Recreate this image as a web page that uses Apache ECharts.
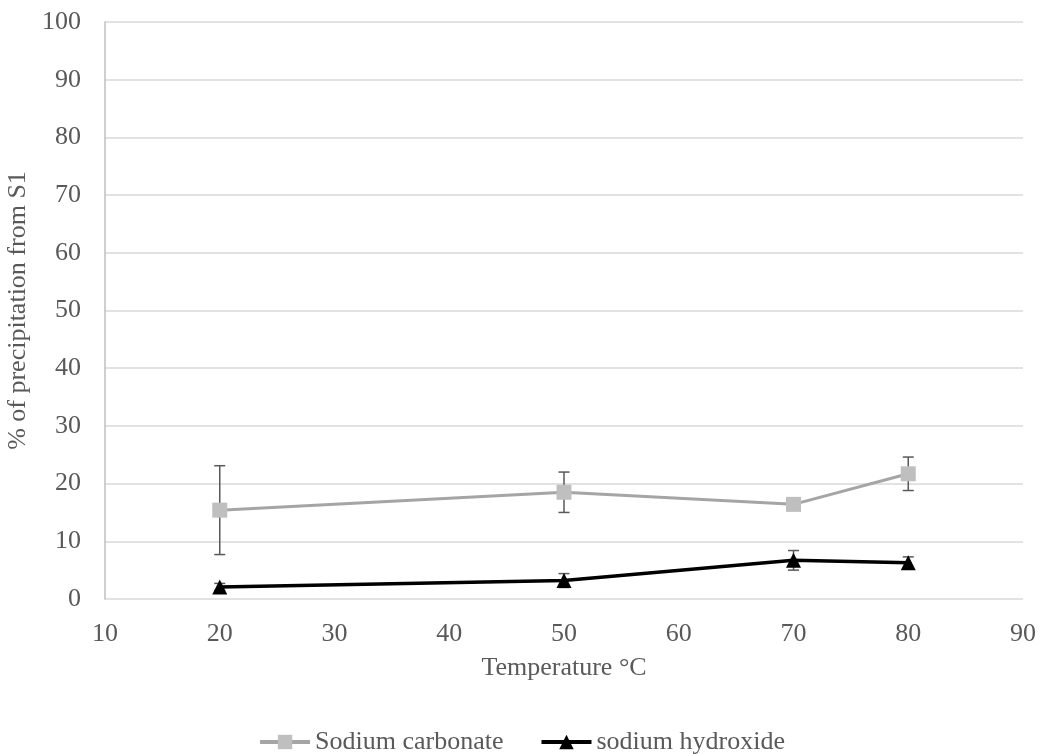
<!DOCTYPE html>
<html>
<head>
<meta charset="utf-8">
<script src="https://cdn.jsdelivr.net/npm/echarts@6/dist/echarts.min.js"></script>
<style>html,body{margin:0;padding:0;background:#fff;}#chart{width:1043px;height:754px;}</style>
</head>
<body>
<div id="chart"></div>
<script>
const temps = [20, 50, 70, 80];
const carbonate = [15.4, 18.5, 16.4, 21.7];
const carbonateErr = [7.7, 3.5, 0.4, 2.9];
const hydroxide = [2.1, 3.2, 6.7, 6.3];
const hydroxideErr = [0.6, 1.2, 1.7, 1.0];
const seriesNames = ['Sodium carbonate', 'sodium hydroxide'];
const xTitle = 'Temperature °C';
const yTitle = '% of precipitation from S1';

const font = 'Liberation Serif, Times New Roman, serif';
const textColor = '#595959';
const fs = 26;

function pairs(ys) { return temps.map((t, i) => [t, ys[i]]); }
function errData(ys, es) { return temps.map((t, i) => [t, ys[i] - es[i], ys[i] + es[i]]); }

function errRender(params, api) {
  const x = api.value(0);
  const lo = api.coord([x, api.value(1)]);
  const hi = api.coord([x, api.value(2)]);
  const cap = 5.5;
  const style = { stroke: '#595959', lineWidth: 1.5 };
  return {
    type: 'group',
    children: [
      { type: 'line', shape: { x1: lo[0], y1: lo[1], x2: hi[0], y2: hi[1] }, style },
      { type: 'line', shape: { x1: hi[0] - cap, y1: hi[1], x2: hi[0] + cap, y2: hi[1] }, style },
      { type: 'line', shape: { x1: lo[0] - cap, y1: lo[1], x2: lo[0] + cap, y2: lo[1] }, style }
    ]
  };
}

const chart = echarts.init(document.getElementById('chart'), null, { renderer: 'canvas' });
chart.setOption({
  animation: false,
  backgroundColor: '#fff',
  textStyle: { fontFamily: font },
  grid: { left: 105, top: 22, width: 918, height: 577, containLabel: false, outerBoundsMode: 'none' },
  legend: {
    top: 724,
    left: 'center',
    itemWidth: 50,
    itemHeight: 18,
    itemGap: 36,
    lineStyle: { width: 4 },
    textStyle: { fontFamily: font, fontSize: fs, color: textColor },
    data: seriesNames
  },
  xAxis: {
    type: 'value',
    min: 10, max: 90, interval: 10,
    name: xTitle,
    nameLocation: 'middle',
    nameGap: 56,
    nameTextStyle: { fontFamily: font, fontSize: fs, color: textColor },
    axisLine: { show: false },
    axisTick: { show: false },
    splitLine: { show: false },
    axisLabel: { fontFamily: font, fontSize: fs, color: textColor, margin: 22 }
  },
  yAxis: {
    type: 'value',
    min: 0, max: 100, interval: 10,
    name: yTitle,
    nameLocation: 'middle',
    nameGap: 66,
    nameTextStyle: { fontFamily: font, fontSize: fs, color: textColor },
    axisLine: { show: true, lineStyle: { color: '#BFBFBF', width: 1.5 } },
    axisTick: { show: false },
    splitLine: { show: true, lineStyle: { color: '#D9D9D9', width: 1.5 } },
    axisLabel: { fontFamily: font, fontSize: fs, color: textColor, margin: 24 }
  },
  series: [
    {
      name: 'errC', type: 'custom', renderItem: errRender, data: errData(carbonate, carbonateErr), z: 1, silent: true
    },
    {
      name: 'errH', type: 'custom', renderItem: errRender, data: errData(hydroxide, hydroxideErr), z: 1, silent: true
    },
    {
      name: seriesNames[0], type: 'line', data: pairs(carbonate), z: 3,
      symbol: 'rect', symbolSize: 15,
      lineStyle: { color: '#A5A5A5', width: 3 },
      itemStyle: { color: '#BFBFBF' }
    },
    {
      name: seriesNames[1], type: 'line', data: pairs(hydroxide), z: 3,
      symbol: 'triangle', symbolSize: 15,
      lineStyle: { color: '#000000', width: 3.5 },
      itemStyle: { color: '#000000' }
    }
  ]
});
</script>
</body>
</html>
